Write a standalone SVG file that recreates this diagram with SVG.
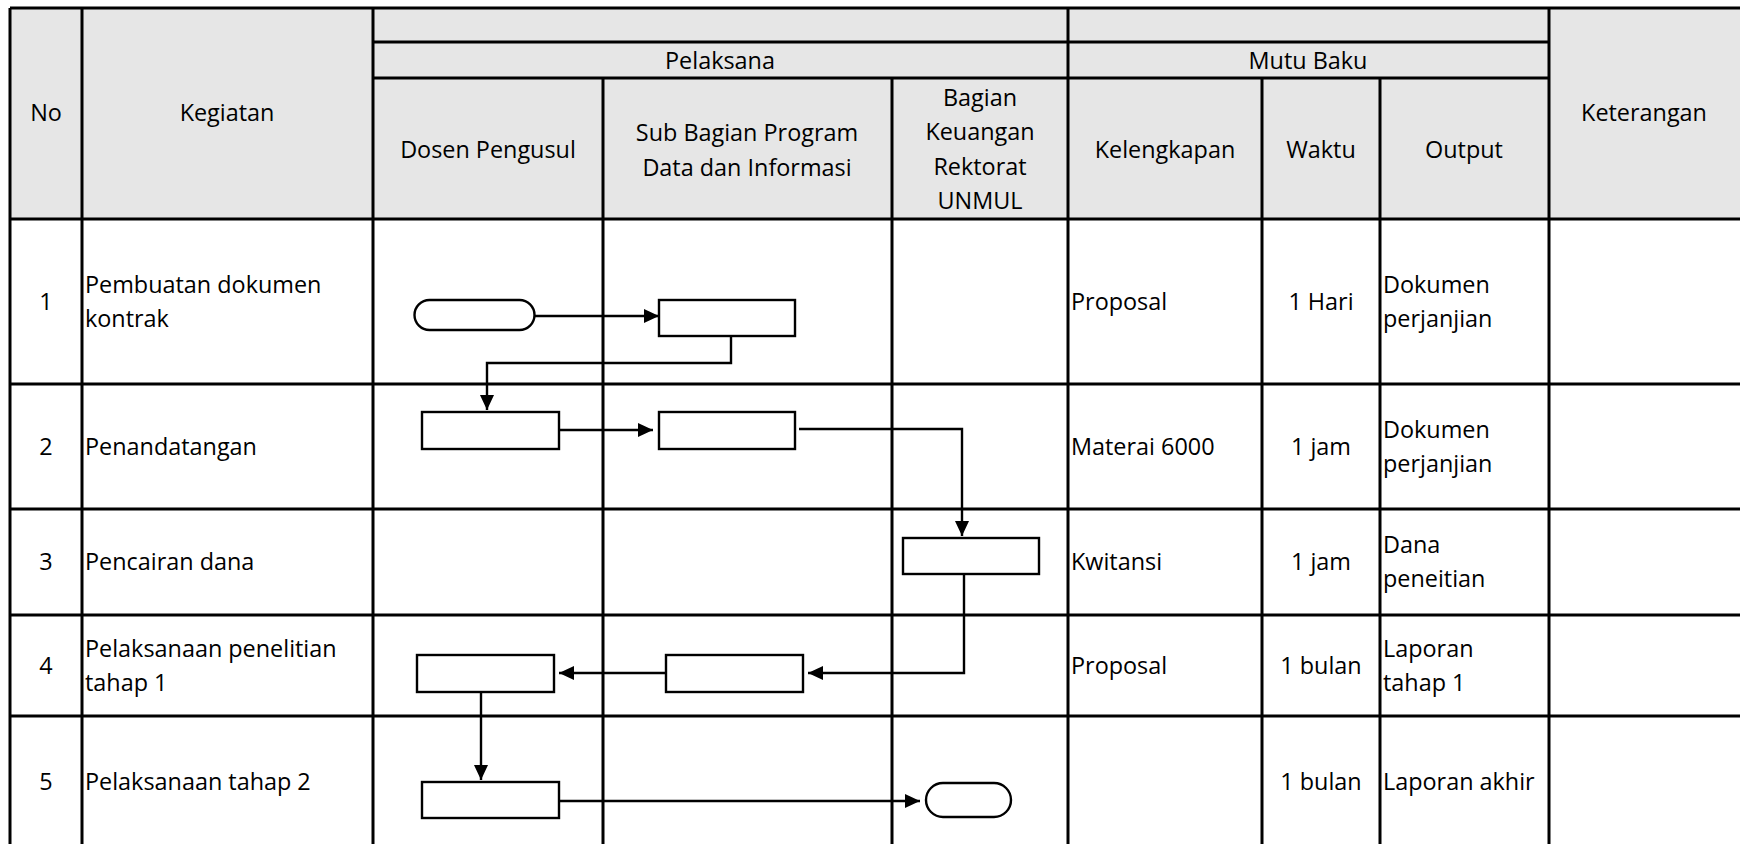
<svg xmlns="http://www.w3.org/2000/svg" width="1740" height="844" viewBox="0 0 1740 844">
<style>
.grid{stroke:#000;stroke-width:3;fill:none}
.shape{fill:#fff;stroke:#000;stroke-width:2.4}
.conn{fill:none;stroke:#000;stroke-width:2.4}
text{font-family:"Open Sans","Noto Sans","Liberation Sans",sans-serif;font-size:23.4px;fill:#000}
.c{text-anchor:middle}
</style>
<defs>
<marker id="arr" markerUnits="userSpaceOnUse" markerWidth="17" markerHeight="16" refX="15" refY="7" orient="auto">
<path d="M0,0 L15,7 L0,14 z" fill="#000"/>
</marker>
</defs>
<rect x="0" y="0" width="1740" height="844" fill="#fff"/>
<g id="header-bg">
<rect x="10" y="8" width="1730" height="211" fill="#e6e6e6"/>
</g>
<g id="grid" class="grid">
<line x1="10" y1="8" x2="1740" y2="8"/>
<line x1="373" y1="42" x2="1549" y2="42"/>
<line x1="373" y1="78" x2="1549" y2="78"/>
<line x1="10" y1="219" x2="1740" y2="219"/>
<line x1="10" y1="384" x2="1740" y2="384"/>
<line x1="10" y1="509" x2="1740" y2="509"/>
<line x1="10" y1="615" x2="1740" y2="615"/>
<line x1="10" y1="716" x2="1740" y2="716"/>
<line x1="10" y1="8" x2="10" y2="844"/>
<line x1="82" y1="8" x2="82" y2="844"/>
<line x1="373" y1="8" x2="373" y2="844"/>
<line x1="603" y1="78" x2="603" y2="844"/>
<line x1="892" y1="78" x2="892" y2="844"/>
<line x1="1068" y1="8" x2="1068" y2="844"/>
<line x1="1262" y1="78" x2="1262" y2="844"/>
<line x1="1380" y1="78" x2="1380" y2="844"/>
<line x1="1549" y1="8" x2="1549" y2="844"/>
</g>
<g id="header-text">
<text class="c" x="46" y="121">No</text>
<text class="c" x="227" y="121">Kegiatan</text>
<text class="c" x="720" y="69">Pelaksana</text>
<text class="c" x="1308" y="69">Mutu Baku</text>
<text class="c" x="488" y="158">Dosen Pengusul</text>
<text class="c" x="747" y="141">Sub Bagian Program</text>
<text class="c" x="747" y="176">Data dan Informasi</text>
<text class="c" x="980" y="106">Bagian</text>
<text class="c" x="980" y="140">Keuangan</text>
<text class="c" x="980" y="175">Rektorat</text>
<text class="c" x="980" y="209">UNMUL</text>
<text class="c" x="1165" y="158">Kelengkapan</text>
<text class="c" x="1321" y="158">Waktu</text>
<text class="c" x="1464" y="158">Output</text>
<text class="c" x="1644" y="121">Keterangan</text>
</g>
<g id="row-text">
<text class="c" x="46" y="310">1</text>
<text x="85" y="293">Pembuatan dokumen</text>
<text x="85" y="327">kontrak</text>
<text x="1071" y="310">Proposal</text>
<text class="c" x="1321" y="310">1 Hari</text>
<text x="1383" y="293">Dokumen</text>
<text x="1383" y="327">perjanjian</text>

<text class="c" x="46" y="455">2</text>
<text x="85" y="455">Penandatangan</text>
<text x="1071" y="455">Materai 6000</text>
<text class="c" x="1321" y="455">1 jam</text>
<text x="1383" y="438">Dokumen</text>
<text x="1383" y="472">perjanjian</text>

<text class="c" x="46" y="570">3</text>
<text x="85" y="570">Pencairan dana</text>
<text x="1071" y="570">Kwitansi</text>
<text class="c" x="1321" y="570">1 jam</text>
<text x="1383" y="553">Dana</text>
<text x="1383" y="587">peneitian</text>

<text class="c" x="46" y="674">4</text>
<text x="85" y="657">Pelaksanaan penelitian</text>
<text x="85" y="691">tahap 1</text>
<text x="1071" y="674">Proposal</text>
<text class="c" x="1321" y="674">1 bulan</text>
<text x="1383" y="657">Laporan</text>
<text x="1383" y="691">tahap 1</text>

<text class="c" x="46" y="790">5</text>
<text x="85" y="790">Pelaksanaan tahap 2</text>
<text class="c" x="1321" y="790">1 bulan</text>
<text x="1383" y="790">Laporan akhir</text>
</g>
<g id="connectors">
<path class="conn" d="M534 316 H659" marker-end="url(#arr)"/>
<path class="conn" d="M731 336 V363 H487 V410" marker-end="url(#arr)"/>
<path class="conn" d="M560 430 H653" marker-end="url(#arr)"/>
<path class="conn" d="M799 429 H962 V536" marker-end="url(#arr)"/>
<path class="conn" d="M964 575 V673 H808" marker-end="url(#arr)"/>
<path class="conn" d="M665 673 H559" marker-end="url(#arr)"/>
<path class="conn" d="M481 692 V780" marker-end="url(#arr)"/>
<path class="conn" d="M560 801 H920" marker-end="url(#arr)"/>
</g>
<g id="node-start"><rect class="shape" x="414.5" y="300" width="120" height="30" rx="15"/></g>
<g id="node-r1"><rect class="shape" x="659" y="300" width="136" height="36"/></g>
<g id="node-r2a"><rect class="shape" x="422" y="412" width="137" height="37"/></g>
<g id="node-r2b"><rect class="shape" x="659" y="412" width="136" height="37"/></g>
<g id="node-r3"><rect class="shape" x="903" y="538" width="136" height="36"/></g>
<g id="node-r4b"><rect class="shape" x="666" y="655" width="137" height="37"/></g>
<g id="node-r4a"><rect class="shape" x="417" y="655" width="137" height="37"/></g>
<g id="node-r5"><rect class="shape" x="422" y="782" width="137" height="36"/></g>
<g id="node-end"><rect class="shape" x="926" y="783" width="85" height="34" rx="17"/></g>
</svg>
